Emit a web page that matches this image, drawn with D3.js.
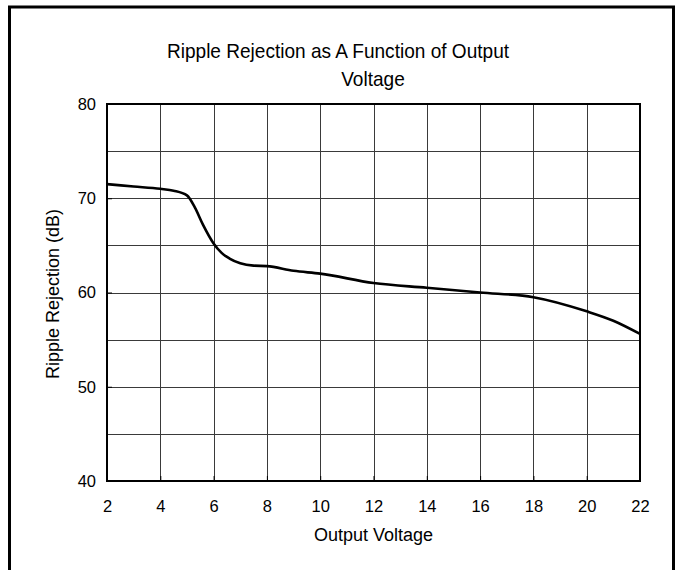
<!DOCTYPE html>
<html>
<head>
<meta charset="utf-8">
<script src="https://cdn.jsdelivr.net/npm/d3@7"></script>
<style>
  body { margin: 0; background: #fff; }
  text { font-family: "Liberation Sans", Arial, sans-serif; fill: #000; }
</style>
</head>
<body>
<div id="chart"></div>
<script>
// values
var voltage   = [2, 3, 4, 4.5, 5, 5.3, 5.6, 6, 6.3, 6.6, 7, 7.5, 8, 9, 10, 12, 14, 16, 18, 20, 21, 22];
var rejection = [71.5, 71.25, 71.0, 70.8, 70.3, 69.0, 67.2, 65.2, 64.2, 63.6, 63.1, 62.85, 62.8, 62.3, 62.0, 61.0, 60.5, 60.0, 59.5, 58.0, 57.0, 55.6];
var xTicks = [2, 4, 6, 8, 10, 12, 14, 16, 18, 20, 22];
var yTicks = [40, 50, 60, 70, 80];
var yGrid  = [45, 55, 65, 75];
var titleLines = ["Ripple Rejection as A Function of Output", "Voltage"];

var width = 682, height = 570;
var plot = {left: 107, right: 640, top: 104, bottom: 481};

var svg = d3.select("#chart").append("svg")
  .attr("width", width)
  .attr("height", height);

// outer frame (bottom runs off the picture)
svg.append("rect")
  .attr("x", 9.5).attr("y", 7)
  .attr("width", 664).attr("height", 600)
  .attr("fill", "none")
  .attr("stroke", "#000")
  .attr("stroke-width", 3);

var x = d3.scaleLinear().domain([2, 22]).range([plot.left, plot.right]);
var y = d3.scaleLinear().domain([40, 80]).range([plot.bottom, plot.top]);

// grid
var g = svg.append("g");
g.selectAll(".vgrid")
  .data(xTicks.slice(1, -1))
  .enter().append("line")
  .attr("class", "vgrid")
  .attr("x1", function(d){ return Math.round(x(d)) + 0.5; })
  .attr("x2", function(d){ return Math.round(x(d)) + 0.5; })
  .attr("y1", plot.top).attr("y2", plot.bottom)
  .attr("stroke", "#3a3a3a").attr("stroke-width", 1);

g.selectAll(".hgrid")
  .data(yTicks.slice(1, -1).concat(yGrid))
  .enter().append("line")
  .attr("class", "hgrid")
  .attr("y1", function(d){ return Math.round(y(d)) + 0.5; })
  .attr("y2", function(d){ return Math.round(y(d)) + 0.5; })
  .attr("x1", plot.left).attr("x2", plot.right)
  .attr("stroke", "#3a3a3a").attr("stroke-width", 1);

// axes, ticks pointing inward
var xAxis = svg.append("g")
  .attr("transform", "translate(0," + plot.bottom + ")")
  .call(d3.axisBottom(x).tickValues(xTicks).tickSize(-5).tickPadding(19));
var yAxis = svg.append("g")
  .attr("transform", "translate(" + plot.left + ",0)")
  .call(d3.axisLeft(y).tickValues(yTicks).tickSize(-5).tickPadding(11));

[xAxis, yAxis].forEach(function(a){
  a.attr("font-size", null).attr("font-family", null);
  a.select(".domain").remove();
  a.selectAll("line").attr("stroke", "#000");
  a.selectAll("text")
    .style("font-size", "16.5px")
    .attr("fill", "#000");
});

// plot frame
svg.append("rect")
  .attr("x", plot.left).attr("y", plot.top)
  .attr("width", plot.right - plot.left)
  .attr("height", plot.bottom - plot.top)
  .attr("fill", "none")
  .attr("stroke", "#000")
  .attr("stroke-width", 2);

// curve
var line = d3.line()
  .x(function(d, i){ return x(voltage[i]); })
  .y(function(d){ return y(d); })
  .curve(d3.curveMonotoneX);

svg.append("path")
  .datum(rejection)
  .attr("d", line)
  .attr("fill", "none")
  .attr("stroke", "#000")
  .attr("stroke-width", 2.6)
  .attr("stroke-linejoin", "round");

// title (slightly condensed, taller glyphs like the original)
svg.append("text")
  .attr("transform", "translate(338,58) scale(0.93,1)")
  .attr("text-anchor", "middle")
  .style("font-size", "20.5px")
  .text(titleLines[0]);
svg.append("text")
  .attr("transform", "translate(373,86) scale(0.93,1)")
  .attr("text-anchor", "middle")
  .style("font-size", "20.5px")
  .text(titleLines[1]);

// axis titles
svg.append("text")
  .attr("x", (plot.left + plot.right) / 2).attr("y", 541)
  .attr("text-anchor", "middle")
  .style("font-size", "18px")
  .text("Output Voltage");

svg.append("text")
  .attr("transform", "translate(59,294) rotate(-90)")
  .attr("text-anchor", "middle")
  .style("font-size", "18px")
  .text("Ripple Rejection (dB)");
</script>
</body>
</html>
